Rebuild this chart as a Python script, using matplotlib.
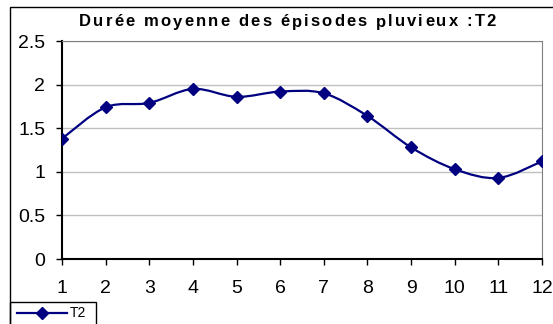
import numpy as np
import matplotlib
matplotlib.use("Agg")
import matplotlib.pyplot as plt
from matplotlib.path import Path
from matplotlib.patches import PathPatch, Rectangle
from matplotlib.lines import Line2D

plt.rcParams['font.family'] = ['Liberation Sans', 'DejaVu Sans']

months = [1, 2, 3, 4, 5, 6, 7, 8, 9, 10, 11, 12]
t2 = [1.38, 1.74, 1.79, 1.95, 1.86, 1.92, 1.90, 1.64, 1.28, 1.03, 0.93, 1.12]
title = "Durée moyenne des épisodes pluvieux :T2"
navy = "#000080"


def smooth_path(xs, ys):
    # bezier segments through every point, tangents from neighbours
    pts = np.column_stack([xs, ys]).astype(float)
    n = len(pts)
    verts = [pts[0]]
    codes = [Path.MOVETO]
    for i in range(n - 1):
        p0 = pts[i - 1] if i > 0 else pts[i]
        p1 = pts[i]
        p2 = pts[i + 1]
        p3 = pts[i + 2] if i + 2 < n else pts[i + 1]
        c1 = p1 + (p2 - p0) / 6.0
        c2 = p2 - (p3 - p1) / 6.0
        verts += [c1, c2, p2]
        codes += [Path.CURVE4] * 3
    return Path(verts, codes)


def spaced_text(fig, x0, x1, y, s, **kw):
    # spread the characters evenly between x0 and x1 (pixels)
    r = fig.canvas.get_renderer()
    probe = fig.text(0, 0, "", **kw)
    widths = []
    for i in range(len(s) + 1):
        probe.set_text(s[:i].replace(" ", "\u00a0"))
        widths.append(probe.get_window_extent(r).width if i else 0.0)
    probe.remove()
    extra = (x1 - x0 - widths[-1]) / (len(s) - 1)
    for i, ch in enumerate(s):
        if ch == " ":
            continue
        fig.text((x0 + widths[i] + i * extra) / W, y, ch, ha="left",
                 va="center", **kw)


W, H = 553, 324
fig = plt.figure(figsize=(W / 100, H / 100), dpi=100)
ax = fig.add_axes([62 / W, (H - 259) / H, 480 / W, 218 / H])

ax.add_patch(PathPatch(smooth_path(months, t2), facecolor="none",
                       edgecolor=navy, lw=1.6, zorder=3))
ax.plot(months, t2, ls="none", marker="D", ms=6, color=navy, zorder=4)

ax.set_xlim(1, 12)
ax.set_ylim(0, 2.5)
ax.set_xticks(months)
ax.set_yticks([0, 0.5, 1, 1.5, 2, 2.5])
ax.set_yticklabels(["0", "0.5", "1", "1.5", "2", "2.5"])
ax.tick_params(axis="both", direction="out", length=4, width=1, labelsize=14)
ax.tick_params(axis="y", pad=8)
ax.tick_params(axis="x", pad=11)
ax.grid(axis="y", color="#c0c0c0", lw=1)
ax.set_axisbelow(True)
for s in ["top", "right"]:
    ax.spines[s].set_color("#808080")
for s in ["left", "bottom"]:
    ax.spines[s].set_color("black")
    ax.spines[s].set_linewidth(1.5)

spaced_text(fig, 79, 496, 1 - 22 / H, title, fontsize=12, fontweight="bold")

# chart border
fig.patches.append(Rectangle((10 / W, -0.1), 1.0, 1 - 7 / H + 0.1,
                             transform=fig.transFigure, fill=False,
                             edgecolor="black", lw=1))

# legend box
fig.patches.append(Rectangle((10 / W, -0.1), 86 / W, 1 - 302 / H + 0.1,
                             transform=fig.transFigure, fill=False,
                             edgecolor="black", lw=1))
fig.lines.append(Line2D([17 / W, 67 / W], [1 - 313 / H] * 2,
                        transform=fig.transFigure, color=navy, lw=1.6))
fig.lines.append(Line2D([42 / W], [1 - 313 / H], transform=fig.transFigure,
                        ls="none", marker="D", ms=6, color=navy))
fig.text(70 / W, 1 - 313 / H, "T2", ha="left", va="center", fontsize=10)

fig.savefig("out.png", dpi=100)
